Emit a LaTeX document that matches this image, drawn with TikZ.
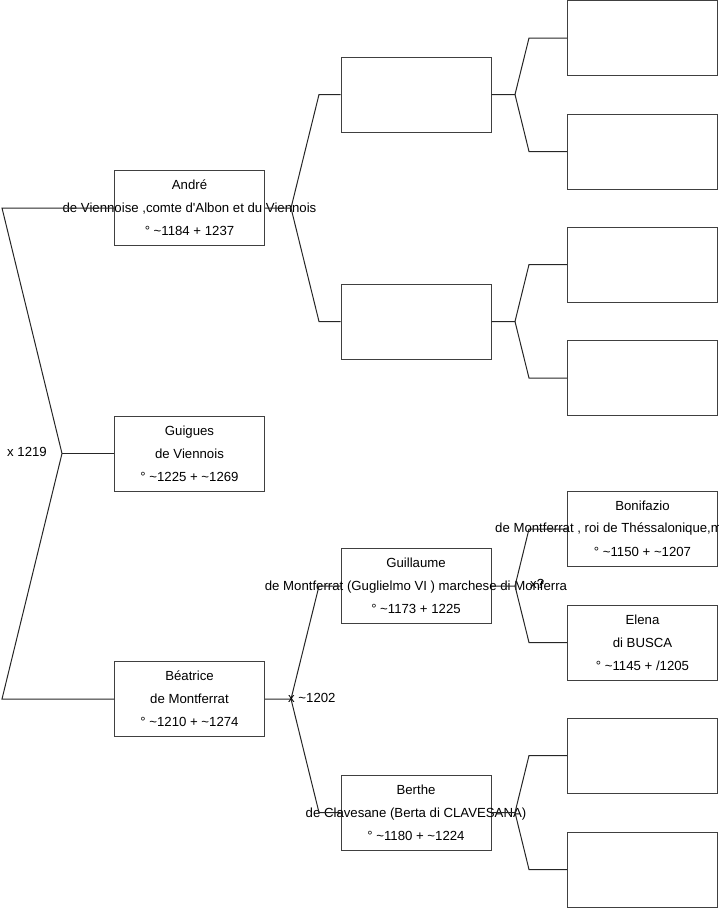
\documentclass[tikz,border=0pt]{standalone}
\usepackage{fontspec}
\setmainfont{Liberation Sans}
\begin{document}
\begin{tikzpicture}[x=1pt,y=-1pt,
  box/.style={draw=black!75, line width=1pt, minimum width=150pt, minimum height=75pt, inner sep=0pt},
  txt/.style={align=center, font=\fontsize{13.2}{23}\selectfont, inner sep=0pt},
  lbl/.style={font=\fontsize{13.2}{15}\selectfont, inner sep=0pt},
  link/.style={draw=black!85, line width=1pt}]
\useasboundingbox (0,0) rectangle (719,908);
% generation 1
\node[box] (andre) at (189.5,208) {};
\node[box] (guig) at (189.5,453.5) {};
\node[box] (beat) at (189.5,699) {};
% generation 2
\node[box] (p1) at (416,94.5) {};
\node[box] (p2) at (416,321.5) {};
\node[box] (p3) at (416,586) {};
\node[box] (p4) at (416,812.5) {};
% generation 3
\node[box] (q1) at (642.5,38) {};
\node[box] (q2) at (642.5,151.5) {};
\node[box] (q3) at (642.5,264.5) {};
\node[box] (q4) at (642.5,378) {};
\node[box] (q5) at (642.5,529) {};
\node[box] (q6) at (642.5,642.5) {};
\node[box] (q7) at (642.5,755.5) {};
\node[box] (q8) at (642.5,869.5) {};
% texts
\node[txt] (andreT) at (andre.center) {André\\de Viennoise ,comte d\textquotesingle Albon et du Viennois\\° \textasciitilde1184 + 1237};
\node[txt] (guigT) at (guig.center) {Guigues\\de Viennois\\° \textasciitilde1225 + \textasciitilde1269};
\node[txt] (beatT) at (beat.center) {Béatrice\\de Montferrat\\° \textasciitilde1210 + \textasciitilde1274};
\node[txt] (p3T) at (p3.center) {Guillaume\\de Montferrat (Guglielmo VI ) marchese di Monferra\\° \textasciitilde1173 + 1225};
\node[txt] (p4T) at (p4.center) {Berthe\\de Clavesane (Berta di CLAVESANA)\\° \textasciitilde1180 + \textasciitilde1224};
\node[lbl] (q5a) at (642.5,506) {Bonifazio};
\node[lbl, anchor=west] (q5b) at (495,529) {de Montferrat , roi de Théssalonique,marquis de Montferrat};
\node[lbl] (q5c) at (642.5,552) {° \textasciitilde1150 + \textasciitilde1207};
\node[txt] (q6T) at (q6.center) {Elena\\di BUSCA\\° \textasciitilde1145 + /1205};
% connectors generation 1
\coordinate (cA) at (2,208);
\coordinate (cB) at (2,699);
\coordinate (f0) at (62,453.5);
\draw[link] (andre.west) -- (cA) -- (f0) -- (cB) -- (beat.west);
\draw[link] (f0) -- (guig.west);
\node[lbl, anchor=west] (m0) at (7,452) {x 1219};
% connectors generation 2
\coordinate (f1) at (291,208);
\coordinate (f1a) at (319,94.5);
\coordinate (f1b) at (319,321.5);
\draw[link] (andre.east) -- (f1) -- (f1a) -- (p1.west);
\draw[link] (f1) -- (f1b) -- (p2.west);
\coordinate (f2) at (291,699);
\coordinate (f2a) at (319,586);
\coordinate (f2b) at (319,812.5);
\draw[link] (beat.east) -- (f2) -- (f2a) -- (p3.west);
\draw[link] (f2) -- (f2b) -- (p4.west);
\node[lbl, anchor=west] (m2) at (288,698) {x \textasciitilde1202};
% connectors generation 3
\coordinate (g1) at (515,94.5);
\coordinate (g1a) at (529,38);
\coordinate (g1b) at (529,151.5);
\draw[link] (p1.east) -- (g1) -- (g1a) -- (q1.west);
\draw[link] (g1) -- (g1b) -- (q2.west);
\coordinate (g2) at (515,321.5);
\coordinate (g2a) at (529,264.5);
\coordinate (g2b) at (529,378);
\draw[link] (p2.east) -- (g2) -- (g2a) -- (q3.west);
\draw[link] (g2) -- (g2b) -- (q4.west);
\coordinate (g3) at (515,586);
\coordinate (g3a) at (529,529);
\coordinate (g3b) at (529,642.5);
\draw[link] (p3.east) -- (g3) -- (g3a) -- (q5.west);
\draw[link] (g3) -- (g3b) -- (q6.west);
\node[lbl, anchor=west] (m3) at (530,584) {x?};
\coordinate (g4) at (515,812.5);
\coordinate (g4a) at (529,755.5);
\coordinate (g4b) at (529,869.5);
\draw[link] (p4.east) -- (g4) -- (g4a) -- (q7.west);
\draw[link] (g4) -- (g4b) -- (q8.west);
\end{tikzpicture}
\end{document}
